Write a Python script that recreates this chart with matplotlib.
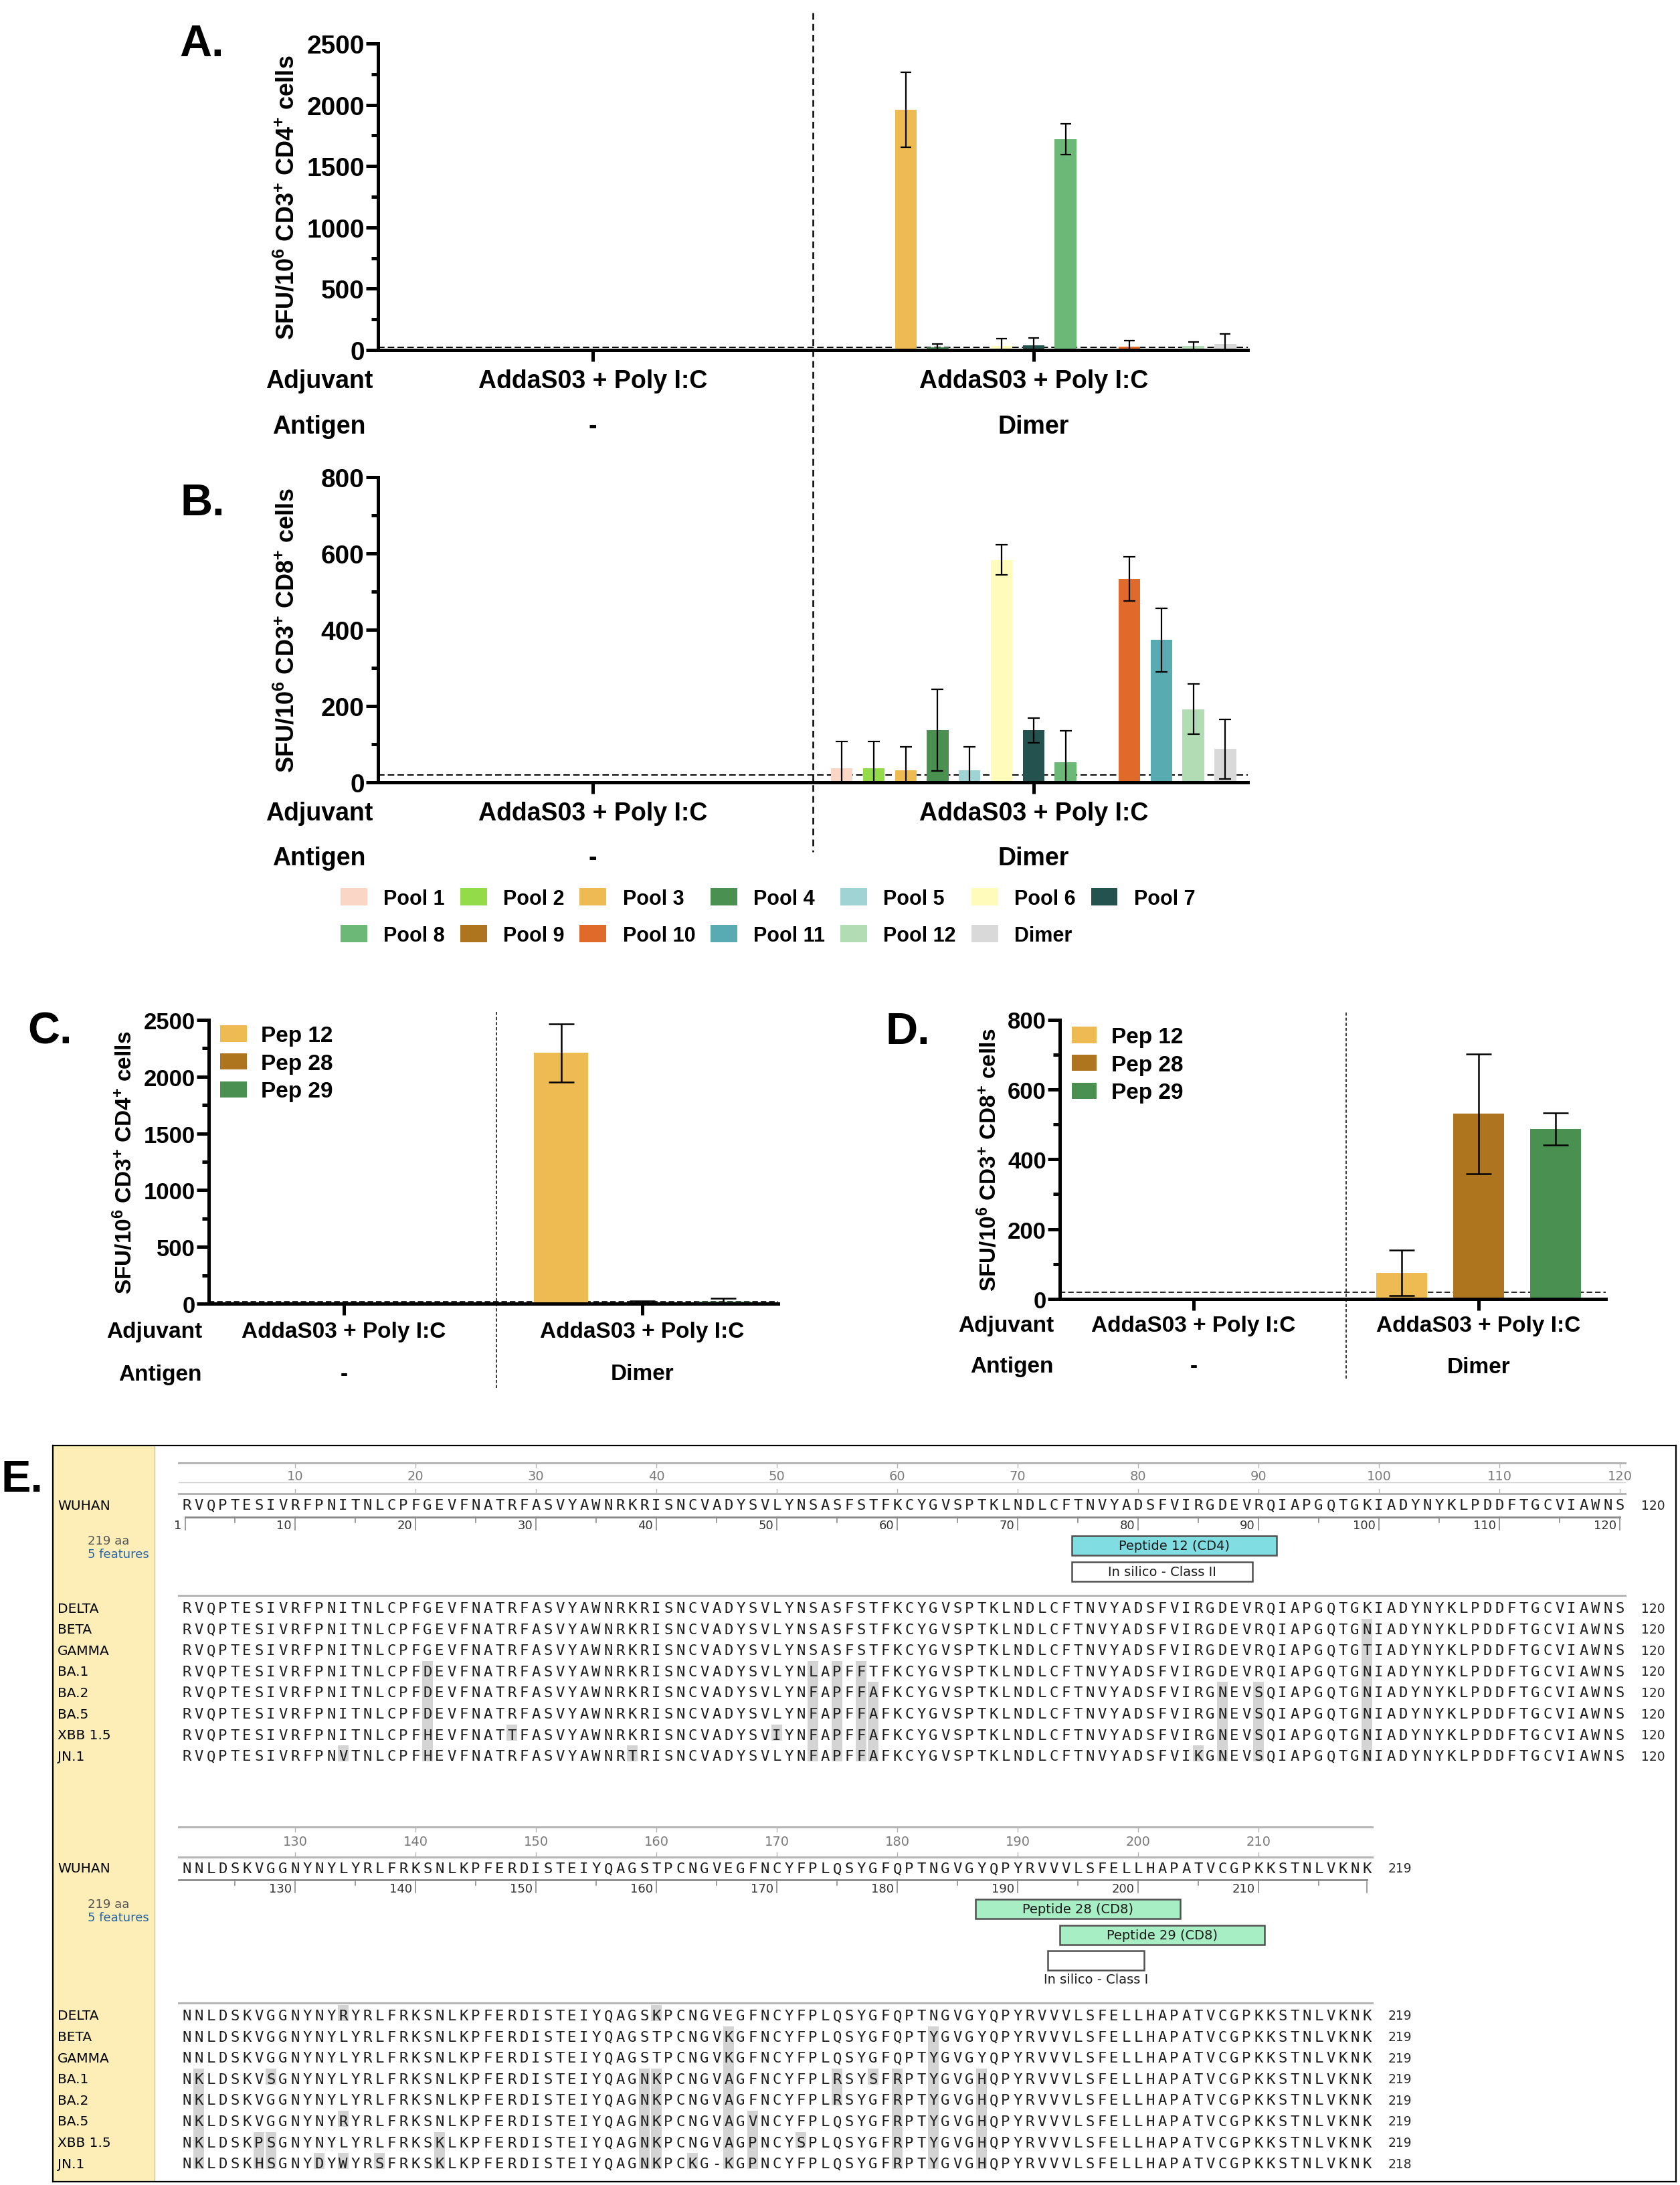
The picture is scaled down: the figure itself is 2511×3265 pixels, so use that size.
import numpy as np
import matplotlib
matplotlib.use('Agg')
import matplotlib.pyplot as plt
from matplotlib.patches import Rectangle, Patch
from matplotlib.lines import Line2D
from matplotlib.transforms import blended_transform_factory as blend

W, H = 2511, 3266

# ---------------- data ----------------
pools = ['Pool 1', 'Pool 2', 'Pool 3', 'Pool 4', 'Pool 5', 'Pool 6', 'Pool 7',
         'Pool 8', 'Pool 9', 'Pool 10', 'Pool 11', 'Pool 12', 'Dimer']
pool_colors = ['#F9D6C6', '#93DB48', '#EDBB52', '#4A9151', '#A0D4D4', '#FFFCBB', '#24534F',
               '#6BB877', '#AE741E', '#E06A29', '#57ABB1', '#B2DDB4', '#D9D9D9']
adjuvants = ['AddaS03 + Poly I:C', 'AddaS03 + Poly I:C']
antigens = ['-', 'Dimer']

# group "-" (adjuvant only) gave no spots
neg_pool_mean = [0, 0, 0, 0, 0, 0, 0, 0, 0, 0, 0, 0, 0]
neg_pool_sd = [0, 0, 0, 0, 0, 0, 0, 0, 0, 0, 0, 0, 0]
cd4_pool_mean = [0, 0, 1960, 20, 0, 35, 39, 1720, 0, 25, 0, 31, 47]
cd4_pool_sd = [0, 0, 305, 27, 0, 59, 59, 125, 0, 49, 0, 35, 82]
cd8_pool_mean = [37, 37, 31, 136, 31, 583, 136, 52, 0, 533, 373, 192, 87]
cd8_pool_sd = [70, 70, 62, 107, 62, 40, 32, 83, 0, 58, 84, 66, 78]
threshold = 20

peptides = ['Pep 12', 'Pep 28', 'Pep 29']
pep_colors = ['#EDBB52', '#AE741E', '#4A9151']
neg_pep_mean = [0, 0, 0]
neg_pep_sd = [0, 0, 0]
cd4_pep_mean = [2210, 8, 15]
cd4_pep_sd = [256, 14, 33]
cd8_pep_mean = [75, 530, 486]
cd8_pep_sd = [65, 171, 46]

# alignment (RBD, residues 1-219)
wuhan = ('RVQPTESIVRFPNITNLCPFGEVFNATRFASVYAWNRKRISNCVADYSVLYNSASFSTFKCYGVSPTKLNDLCFTNVYAD'
         'SFVIRGDEVRQIAPGQTGKIADYNYKLPDDFTGCVIAWNS'
         'NNLDSKVGGNYNYLYRLFRKSNLKPFERDISTEIYQAGSTPCNGVEGFNCYFPLQSYGFQPTNGVGYQPYRVVVLSFELL'
         'HAPATVCGPKKSTNLVKNK')
variant_names = ['DELTA', 'BETA', 'GAMMA', 'BA.1', 'BA.2', 'BA.5', 'XBB 1.5', 'JN.1']
variant_seqs = [
    'RVQPTESIVRFPNITNLCPFGEVFNATRFASVYAWNRKRISNCVADYSVLYNSASFSTFKCYGVSPTKLNDLCFTNVYADSFVIRGDEVRQIAPGQTGKIADYNYKLPDDFTGCVIAWNS'
    'NNLDSKVGGNYNYRYRLFRKSNLKPFERDISTEIYQAGSKPCNGVEGFNCYFPLQSYGFQPTNGVGYQPYRVVVLSFELLHAPATVCGPKKSTNLVKNK',
    'RVQPTESIVRFPNITNLCPFGEVFNATRFASVYAWNRKRISNCVADYSVLYNSASFSTFKCYGVSPTKLNDLCFTNVYADSFVIRGDEVRQIAPGQTGNIADYNYKLPDDFTGCVIAWNS'
    'NNLDSKVGGNYNYLYRLFRKSNLKPFERDISTEIYQAGSTPCNGVKGFNCYFPLQSYGFQPTYGVGYQPYRVVVLSFELLHAPATVCGPKKSTNLVKNK',
    'RVQPTESIVRFPNITNLCPFGEVFNATRFASVYAWNRKRISNCVADYSVLYNSASFSTFKCYGVSPTKLNDLCFTNVYADSFVIRGDEVRQIAPGQTGTIADYNYKLPDDFTGCVIAWNS'
    'NNLDSKVGGNYNYLYRLFRKSNLKPFERDISTEIYQAGSTPCNGVKGFNCYFPLQSYGFQPTYGVGYQPYRVVVLSFELLHAPATVCGPKKSTNLVKNK',
    'RVQPTESIVRFPNITNLCPFDEVFNATRFASVYAWNRKRISNCVADYSVLYNLAPFFTFKCYGVSPTKLNDLCFTNVYADSFVIRGDEVRQIAPGQTGNIADYNYKLPDDFTGCVIAWNS'
    'NKLDSKVSGNYNYLYRLFRKSNLKPFERDISTEIYQAGNKPCNGVAGFNCYFPLRSYSFRPTYGVGHQPYRVVVLSFELLHAPATVCGPKKSTNLVKNK',
    'RVQPTESIVRFPNITNLCPFDEVFNATRFASVYAWNRKRISNCVADYSVLYNFAPFFAFKCYGVSPTKLNDLCFTNVYADSFVIRGNEVSQIAPGQTGNIADYNYKLPDDFTGCVIAWNS'
    'NKLDSKVGGNYNYLYRLFRKSNLKPFERDISTEIYQAGNKPCNGVAGFNCYFPLRSYGFRPTYGVGHQPYRVVVLSFELLHAPATVCGPKKSTNLVKNK',
    'RVQPTESIVRFPNITNLCPFDEVFNATRFASVYAWNRKRISNCVADYSVLYNFAPFFAFKCYGVSPTKLNDLCFTNVYADSFVIRGNEVSQIAPGQTGNIADYNYKLPDDFTGCVIAWNS'
    'NKLDSKVGGNYNYRYRLFRKSNLKPFERDISTEIYQAGNKPCNGVAGVNCYFPLQSYGFRPTYGVGHQPYRVVVLSFELLHAPATVCGPKKSTNLVKNK',
    'RVQPTESIVRFPNITNLCPFHEVFNATTFASVYAWNRKRISNCVADYSVIYNFAPFFAFKCYGVSPTKLNDLCFTNVYADSFVIRGNEVSQIAPGQTGNIADYNYKLPDDFTGCVIAWNS'
    'NKLDSKPSGNYNYLYRLFRKSKLKPFERDISTEIYQAGNKPCNGVAGPNCYSPLQSYGFRPTYGVGHQPYRVVVLSFELLHAPATVCGPKKSTNLVKNK',
    'RVQPTESIVRFPNVTNLCPFHEVFNATRFASVYAWNRTRISNCVADYSVLYNFAPFFAFKCYGVSPTKLNDLCFTNVYADSFVIKGNEVSQIAPGQTGNIADYNYKLPDDFTGCVIAWNS'
    'NKLDSKHSGNYDYWYRSFRKSKLKPFERDISTEIYQAGNKPCKG-KGPNCYFPLQSYGFRPTYGVGHQPYRVVVLSFELLHAPATVCGPKKSTNLVKNK',
]
feature_names = ['Peptide 12 (CD4)', 'In silico - Class II', 'Peptide 28 (CD8)',
                 'Peptide 29 (CD8)', 'In silico - Class I']
feature_start = [75, 75, 187, 194, 193]
feature_end = [91, 89, 203, 210, 200]
feature_colors = ['#80DDE1', 'white', '#A8EEC4', '#A8EEC4', 'white']

# ---------------- style ----------------
plt.rcParams['font.family'] = ['Liberation Sans', 'DejaVu Sans']
plt.rcParams['font.weight'] = 'bold'
plt.rcParams['mathtext.fontset'] = 'custom'
plt.rcParams['mathtext.rm'] = 'Liberation Sans:bold'
plt.rcParams['mathtext.it'] = 'Liberation Sans:bold'
plt.rcParams['mathtext.bf'] = 'Liberation Sans:bold'
plt.rcParams['mathtext.default'] = 'bf'

fig = plt.figure(figsize=(W / 100, H / 100), dpi=100)


def fx(px):
    return px / W


def fy(py):
    return 1 - py / H


def axes_px(left, top, right, bottom):
    return fig.add_axes([fx(left), fy(bottom), (right - left) / W, (bottom - top) / H])


def draw_bars(ax, means, sds, colors, step, width, capsize, elw):
    n = len(colors)
    offs = (np.arange(n) - (n - 1) / 2) * step
    for g in range(len(means)):
        x = g + offs
        m = np.array(means[g], float)
        s = np.array(sds[g], float)
        ax.bar(x, m, width, color=colors, zorder=2)
        keep = s > 0
        if keep.any():
            ax.errorbar(x[keep], m[keep], yerr=s[keep], fmt='none', ecolor='black',
                        elinewidth=elw, capsize=capsize, capthick=elw, zorder=3)


def style_axes(ax, xlim, ymax, major, fs, lw=3.6, dash_lw=1.4):
    ax.set_xlim(*xlim)
    ax.set_ylim(0, ymax)
    for s in ['top', 'right']:
        ax.spines[s].set_visible(False)
    for s in ['left', 'bottom']:
        ax.spines[s].set_linewidth(lw)
    ax.set_yticks(np.arange(0, ymax + 1, major))
    ax.set_yticks(np.arange(major / 2, ymax, major), minor=True)
    ax.set_xticks([0, 1])
    ax.set_xticklabels([])
    ax.tick_params(axis='y', which='major', length=13, width=lw, labelsize=fs, pad=1.5)
    ax.tick_params(axis='y', which='minor', length=7, width=lw)
    ax.tick_params(axis='x', length=12, width=lw)
    ax.patch.set_alpha(0)
    ax.axhline(threshold, color='black', lw=dash_lw, ls=(0, (5, 2.5)), zorder=1)


def ylabel(ax, text, xfrac, fs):
    ax.text(xfrac, 0.5, text, rotation=90, transform=ax.transAxes, ha='center',
            va='center', fontsize=fs)


def group_rows(ax, y_adj, y_ant, title_x, title_ha, fs):
    tr = blend(ax.transData, fig.transFigure)
    for g in range(2):
        ax.text(g, fy(y_adj), adjuvants[g], transform=tr, ha='center', va='center', fontsize=fs)
        ax.text(g, fy(y_ant), antigens[g], transform=tr, ha='center', va='center', fontsize=fs)
    fig.text(fx(title_x), fy(y_adj), 'Adjuvant', ha=title_ha, va='center', fontsize=fs)
    fig.text(fx(title_x), fy(y_ant), 'Antigen', ha=title_ha, va='center', fontsize=fs)


def separator(ax, x, y0, y1, lw, dashes):
    fig.add_artist(Line2D([x, x], [fy(y0), fy(y1)], transform=blend(ax.transData, fig.transFigure),
                          color='black', lw=lw, ls=(0, dashes)))


label_cd4 = r'SFU/10$^{6}$ CD3$^{+}$ CD4$^{+}$ cells'
label_cd8 = r'SFU/10$^{6}$ CD3$^{+}$ CD8$^{+}$ cells'

# ---------------- A ----------------
ax_a = axes_px(565, 66, 1865, 524)
draw_bars(ax_a, [neg_pool_mean, cd4_pool_mean], [neg_pool_sd, cd4_pool_sd], pool_colors,
          0.0725, 0.049, 6, 1.6)
style_axes(ax_a, (-0.487, 1.486), 2500, 500, 28)
ylabel(ax_a, label_cd4, -0.104, 26)
group_rows(ax_a, 570, 638, 477, 'center', 27)
fig.text(fx(268), fy(84), 'A.', fontsize=48, ha='left', va='baseline')

# ---------------- B ----------------
ax_b = axes_px(565, 714, 1865, 1170)
draw_bars(ax_b, [neg_pool_mean, cd8_pool_mean], [neg_pool_sd, cd8_pool_sd], pool_colors,
          0.0725, 0.049, 6.5, 1.6)
style_axes(ax_b, (-0.487, 1.486), 800, 200, 28)
ylabel(ax_b, label_cd8, -0.104, 26)
group_rows(ax_b, 1216, 1283, 477, 'center', 27)
fig.text(fx(270), fy(770), 'B.', fontsize=48, ha='left', va='baseline')
separator(ax_a, 0.5, 20, 1274, 1.8, (4, 2.5))

order = [0, 7, 1, 8, 2, 9, 3, 10, 4, 11, 5, 12, 6]
handles = [Patch(facecolor=pool_colors[i], edgecolor='none') for i in order]
fig.legend(handles, [pools[i] for i in order], ncol=7, loc='upper left',
           bbox_to_anchor=(fx(509), fy(1328)), frameon=False, fontsize=22,
           handlelength=1.3, handleheight=0.95, handletextpad=0.8, columnspacing=0.75,
           labelspacing=0.8, borderpad=0, borderaxespad=0)

# ---------------- C ----------------
ax_c = axes_px(312, 1525, 1163, 1949)
draw_bars(ax_c, [neg_pep_mean, cd4_pep_mean], [neg_pep_sd, cd4_pep_sd], pep_colors,
          0.272, 0.182, 14, 1.8)
style_axes(ax_c, (-0.453, 1.455), 2500, 500, 25, dash_lw=1.2)
ylabel(ax_c, label_cd4, -0.148, 24)
group_rows(ax_c, 1991, 2054, 302, 'right', 24)
fig.text(fx(41), fy(1560), 'C.', fontsize=48, ha='left', va='baseline')
separator(ax_c, 0.51, 1513, 2075, 1.1, (3, 2))
ax_c.legend([Patch(facecolor=c, edgecolor='none') for c in pep_colors], peptides,
            loc='upper left', bbox_to_anchor=(fx(329), fy(1533)), bbox_transform=fig.transFigure,
            frameon=False, fontsize=24, handlelength=1.2, handleheight=0.75, handletextpad=0.63,
            labelspacing=0.32, borderpad=0, borderaxespad=0)

# ---------------- D ----------------
ax_d = axes_px(1584, 1524.5, 2400, 1942)
draw_bars(ax_d, [neg_pep_mean, cd8_pep_mean], [neg_pep_sd, cd8_pep_sd], pep_colors,
          0.27, 0.178, 14, 1.8)
style_axes(ax_d, (-0.469, 1.446), 800, 200, 25, dash_lw=1.2)
ylabel(ax_d, label_cd8, -0.129, 24)
group_rows(ax_d, 1982, 2043, 1575, 'right', 24)
fig.text(fx(1323), fy(1560), 'D.', fontsize=48, ha='left', va='baseline')
separator(ax_d, 0.535, 1514, 2064, 1.1, (3, 2))
ax_d.legend([Patch(facecolor=c, edgecolor='none') for c in pep_colors], peptides,
            loc='upper left', bbox_to_anchor=(fx(1602), fy(1535)), bbox_transform=fig.transFigure,
            frameon=False, fontsize=24, handlelength=1.12, handleheight=0.75, handletextpad=0.66,
            labelspacing=0.32, borderpad=0, borderaxespad=0)

# ---------------- E : alignment ----------------
box_l, box_t, box_r, box_b = 79, 2161, 2505, 3261
first_px, col_px = 279, 18.0
ax_e = axes_px(box_l, box_t, box_r, box_b)
ax_e.set_xlim(1 - (first_px - box_l) / col_px, 1 + (box_r - first_px) / col_px)
ax_e.set_ylim(box_b, box_t)
ax_e.set_xticks([])
ax_e.set_yticks([])
for s in ax_e.spines.values():
    s.set_linewidth(1.6)
strip_x = 1 + (231 - first_px) / col_px
name_x = 1 + (86 - first_px) / col_px
info_x = 1 + (131 - first_px) / col_px
ax_e.axvspan(ax_e.get_xlim()[0], strip_x, color='#FCEEB6', zorder=0, lw=0)
ax_e.axvline(strip_x, color='#CDBF8F', lw=1)
fig.text(fx(2), fy(2229), 'E.', fontsize=48, ha='left', va='baseline')

seq_font = dict(family='DejaVu Sans Mono', fontsize=16, fontweight='normal', color='#1E1E1E')
lab_font = dict(family='DejaVu Sans', fontsize=14.5, fontweight='normal', color='black')
row_step = 31.6
blocks = [
    dict(start=1, stop=120, top=2187, num=2207, mid=2216, bot=2233, seq=2250, low=2268,
         lownum=2280, aa=2303, nfeat=2323, var_line=2385, row0=2404, low_from=0.89),
    dict(start=121, stop=219, top=2731, num=2752, mid=None, bot=2776, seq=2793, low=2810,
         lownum=2823, aa=2846, nfeat=2866, var_line=2994, row0=3013, low_from=0.33),
]
feat_top = [2296, 2335, 2839, 2878, 2916]
feat_h = 29
feat_label_below = [False, False, False, False, True]


def seq_row(seq, y, name, count):
    ax_e.text(name_x, y, name, ha='left', va='center', **lab_font)
    for i, ch in enumerate(seq):
        ax_e.text(i + 1, y, ch, ha='center', va='center', **seq_font)
    ax_e.text(len(seq) + 1.78, y, str(count), ha='left', va='center', family='DejaVu Sans',
              fontsize=13.5, fontweight='normal', color='#2A2A2A')


for bk in blocks:
    a, b = bk['start'] - 1, bk['stop']
    n = b - a
    right = n + 0.45
    # upper ruler
    ax_e.plot([0.33, right], [bk['top'], bk['top']], color='#B5B5B5', lw=2.2)
    if bk['mid'] is not None:
        ax_e.plot([0.33, right], [bk['mid'], bk['mid']], color='#CFCFCF', lw=1)
    ax_e.plot([0.33, right], [bk['bot'], bk['bot']], color='#B5B5B5', lw=2.2)
    for r in range(bk['start'], bk['stop'] + 1):
        if r % 10 == 0:
            c = r - a
            ax_e.plot([c, c], [bk['top'], bk['top'] + 7], color='#B5B5B5', lw=1)
            ax_e.plot([c, c], [bk['bot'] - 7, bk['bot']], color='#B5B5B5', lw=1)
            ax_e.text(c, bk['num'], str(r), ha='center', va='center', family='DejaVu Sans',
                      fontsize=14, fontweight='normal', color='#7A7A7A')
    # reference sequence
    seq_row(wuhan[a:b], bk['seq'], 'WUHAN', len(wuhan[:b]))
    # lower ruler
    ax_e.plot([bk['low_from'], n], [bk['low'], bk['low']], color='#8A8A8A', lw=2)
    if bk['start'] == 1:
        ax_e.plot([0.89, 0.89], [bk['low'], bk['low'] + 19], color='#8A8A8A', lw=1.2)
        ax_e.text(0.6, bk['lownum'], '1', ha='right', va='center', family='DejaVu Sans',
                  fontsize=13, fontweight='normal', color='#333333')
    for r in range(bk['start'], bk['stop'] + 1):
        c = r - a
        if r % 10 == 0:
            ax_e.plot([c, c], [bk['low'], bk['low'] + 19], color='#8A8A8A', lw=1.2)
            ax_e.text(c - 0.28, bk['lownum'], str(r), ha='right', va='center',
                      family='DejaVu Sans', fontsize=13, fontweight='normal', color='#333333')
        elif r % 5 == 0:
            ax_e.plot([c, c], [bk['low'], bk['low'] + 8], color='#8A8A8A', lw=1.2)
        elif r == bk['stop']:
            ax_e.plot([c, c], [bk['low'], bk['low'] + 19], color='#8A8A8A', lw=1.2)
    ax_e.text(info_x, bk['aa'], '%d aa' % len(wuhan), ha='left', va='center', family='DejaVu Sans',
              fontsize=13, fontweight='normal', color='#555555')
    ax_e.text(info_x, bk['nfeat'], '%d features' % len(feature_names), ha='left', va='center',
              family='DejaVu Sans', fontsize=13, fontweight='normal', color='#2563A8')
    # features
    for k, name in enumerate(feature_names):
        if not (bk['start'] <= feature_start[k] <= bk['stop']):
            continue
        c0 = feature_start[k] - a - 0.5
        c1 = feature_end[k] - a + 0.5
        ax_e.add_patch(Rectangle((c0, feat_top[k]), c1 - c0, feat_h, facecolor=feature_colors[k],
                                 edgecolor='#505050', lw=1.8, zorder=2))
        ty = feat_top[k] + feat_h + 14 if feat_label_below[k] else feat_top[k] + feat_h / 2
        ax_e.text((c0 + c1) / 2, ty, name, ha='center', va='center', family='DejaVu Sans',
                  fontsize=14, fontweight='normal', color='#1A1A1A', zorder=3)
    # variants
    ax_e.plot([0.33, right], [bk['var_line'], bk['var_line']], color='#B5B5B5', lw=2.2)
    ref = wuhan[a:b]
    rows = [v[a:b] for v in variant_seqs]
    for j, (name, seq) in enumerate(zip(variant_names, rows)):
        y = bk['row0'] + j * row_step
        for i, ch in enumerate(seq):
            if ch != ref[i] and ch != '-':
                nxt = j + 1 < len(rows) and rows[j + 1][i] != ref[i] and rows[j + 1][i] != '-'
                bottom = y + row_step - 16 if nxt else y + 8
                ax_e.add_patch(Rectangle((i + 1 - 0.47, y - 16), 0.94, bottom - (y - 16),
                                         facecolor='#D4D4D4', edgecolor='none', zorder=1))
        seq_row(seq, y, name, len(variant_seqs[j][:b].replace('-', '')))

fig.savefig('out.png', dpi=100)
